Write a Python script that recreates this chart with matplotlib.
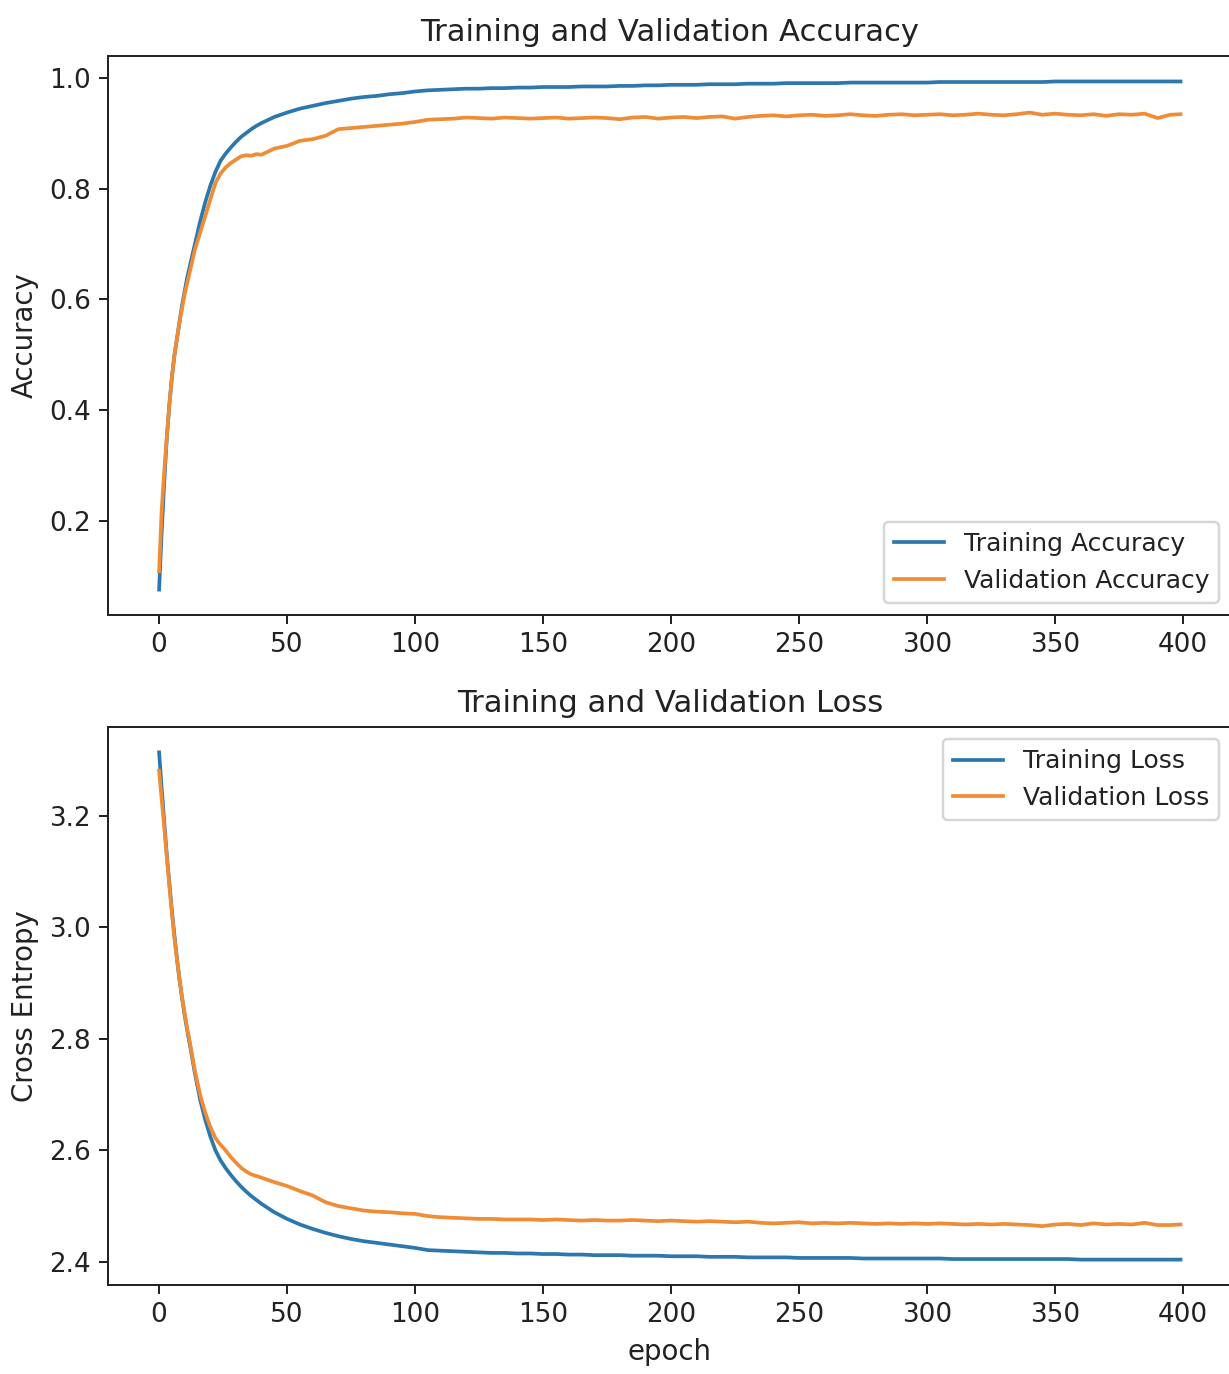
import matplotlib
matplotlib.use("Agg")
import matplotlib.pyplot as plt

# epochs at which the history was sampled (dense during the fast start)
epochs = (list(range(0, 12)) + list(range(12, 40, 2))
          + list(range(40, 400, 5)) + [399])

train_acc = [
    0.077, 0.18, 0.27, 0.35, 0.41, 0.46, 0.50, 0.53, 0.56, 0.59, 0.615, 0.64,
    0.66, 0.70, 0.74, 0.775, 0.805, 0.83, 0.85, 0.863, 0.874, 0.884, 0.893, 0.900, 0.907, 0.913,
    0.918, 0.929, 0.937, 0.944, 0.949, 0.954, 0.958, 0.962, 0.965, 0.967,
    0.970, 0.972, 0.975, 0.977, 0.978, 0.979, 0.980, 0.980, 0.981, 0.981,
    0.982, 0.982, 0.983, 0.983, 0.983, 0.984, 0.984, 0.984, 0.985, 0.985,
    0.986, 0.986, 0.987, 0.987, 0.987, 0.988, 0.988, 0.988, 0.989, 0.989,
    0.989, 0.990, 0.990, 0.990, 0.990, 0.990, 0.991, 0.991, 0.991, 0.991,
    0.991, 0.991, 0.991, 0.992, 0.992, 0.992, 0.992, 0.992, 0.992, 0.992,
    0.992, 0.992, 0.993, 0.993, 0.993, 0.993, 0.993, 0.993, 0.993, 0.993,
    0.993, 0.993, 0.993,
]

val_acc = [
    0.11, 0.22, 0.29, 0.35, 0.41, 0.46, 0.50, 0.53, 0.56, 0.585, 0.61, 0.63,
    0.65, 0.69, 0.72, 0.75, 0.78, 0.81, 0.827, 0.838, 0.846, 0.852, 0.858, 0.860, 0.859, 0.862,
    0.861, 0.872, 0.877, 0.886, 0.889, 0.895, 0.907, 0.909, 0.911, 0.913,
    0.915, 0.917, 0.920, 0.924, 0.925, 0.926, 0.928, 0.927, 0.926, 0.928,
    0.927, 0.926, 0.927, 0.928, 0.926, 0.927, 0.928, 0.927, 0.925, 0.928,
    0.929, 0.926, 0.928, 0.929, 0.927, 0.929, 0.930, 0.926, 0.929, 0.931,
    0.932, 0.930, 0.932, 0.933, 0.931, 0.932, 0.934, 0.932, 0.931, 0.933,
    0.934, 0.932, 0.933, 0.934, 0.932, 0.933, 0.935, 0.933, 0.932, 0.934,
    0.937, 0.933, 0.935, 0.933, 0.932, 0.934, 0.931, 0.934, 0.933, 0.935,
    0.927, 0.933, 0.934,
]

train_loss = [
    3.314, 3.25, 3.19, 3.13, 3.08, 3.03, 2.985, 2.943, 2.905, 2.872, 2.842, 2.815,
    2.79, 2.738, 2.692, 2.655, 2.625, 2.60, 2.582, 2.568, 2.556, 2.545, 2.535, 2.526, 2.518, 2.511,
    2.504, 2.489, 2.477, 2.467, 2.459, 2.452, 2.446, 2.441, 2.437, 2.434,
    2.431, 2.428, 2.425, 2.421, 2.420, 2.419, 2.418, 2.417, 2.416, 2.416,
    2.415, 2.415, 2.414, 2.414, 2.413, 2.413, 2.412, 2.412, 2.412, 2.411,
    2.411, 2.411, 2.410, 2.410, 2.410, 2.409, 2.409, 2.409, 2.408, 2.408,
    2.408, 2.408, 2.407, 2.407, 2.407, 2.407, 2.407, 2.406, 2.406, 2.406,
    2.406, 2.406, 2.406, 2.406, 2.405, 2.405, 2.405, 2.405, 2.405, 2.405,
    2.405, 2.405, 2.405, 2.405, 2.404, 2.404, 2.404, 2.404, 2.404, 2.404,
    2.404, 2.404, 2.404,
]

val_loss = [
    3.281, 3.23, 3.18, 3.127, 3.075, 3.025, 2.98, 2.942, 2.906, 2.874, 2.845, 2.818,
    2.794, 2.742, 2.70, 2.668, 2.642, 2.622, 2.61, 2.60, 2.588, 2.578, 2.569, 2.562, 2.557, 2.554,
    2.551, 2.543, 2.536, 2.527, 2.519, 2.507, 2.500, 2.496, 2.492, 2.490,
    2.489, 2.487, 2.486, 2.482, 2.480, 2.479, 2.478, 2.477, 2.477, 2.476,
    2.476, 2.476, 2.475, 2.476, 2.475, 2.474, 2.475, 2.474, 2.474, 2.475,
    2.474, 2.473, 2.474, 2.473, 2.472, 2.473, 2.472, 2.471, 2.472, 2.470,
    2.469, 2.470, 2.471, 2.469, 2.470, 2.469, 2.470, 2.469, 2.468, 2.469,
    2.468, 2.469, 2.468, 2.469, 2.468, 2.467, 2.468, 2.467, 2.468, 2.467,
    2.466, 2.464, 2.467, 2.468, 2.466, 2.469, 2.467, 2.468, 2.467, 2.470,
    2.466, 2.466, 2.467,
]

train_color = '#2b77ae'
val_color = '#f08c35'

plt.rcParams['text.color'] = '#222222'
plt.rcParams['axes.labelcolor'] = '#222222'
plt.rcParams['xtick.color'] = '#222222'
plt.rcParams['ytick.color'] = '#222222'
plt.rcParams['axes.edgecolor'] = '#222222'
plt.rcParams['xtick.labelsize'] = 10.6
plt.rcParams['ytick.labelsize'] = 10.6
plt.rcParams['axes.labelsize'] = 11.2
plt.rcParams['axes.titlesize'] = 12.4
plt.rcParams['legend.fontsize'] = 10.1

# figure sized so the default line widths come out right
fig = plt.figure(figsize=(1229 / 178, 1374 / 178), dpi=178)

# Accuracy plot
ax1 = fig.add_axes([0.0879, 0.5524, 0.9142, 0.4068])
ax1.plot(epochs, train_acc, color=train_color, label='Training Accuracy')
ax1.plot(epochs, val_acc, color=val_color, label='Validation Accuracy')
ax1.legend(loc='lower right')
ax1.set_ylabel('Accuracy')
ax1.set_title('Training and Validation Accuracy')

# Loss plot
ax2 = fig.add_axes([0.0879, 0.0648, 0.9142, 0.4061])
ax2.plot(epochs, train_loss, color=train_color, label='Training Loss')
ax2.plot(epochs, val_loss, color=val_color, label='Validation Loss')
ax2.legend(loc='upper right')
ax2.set_ylabel('Cross Entropy')
ax2.set_title('Training and Validation Loss')
ax2.set_xlabel('epoch')

fig.savefig('out.png', dpi=178)
